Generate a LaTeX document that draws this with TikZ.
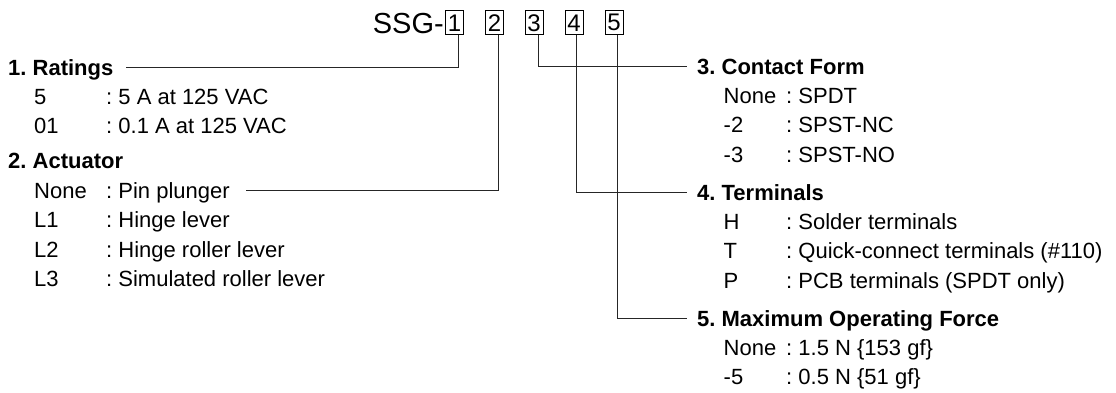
\documentclass[tikz,border=0pt]{standalone}
\usepackage{fontspec}
\setmainfont{Liberation Sans}
\frenchspacing
\begin{document}
\begin{tikzpicture}[x=1pt,y=-1pt,
  txt/.style={anchor=base west,inner sep=0pt,text height=15.75pt,text depth=0pt,font=\fontsize{22}{26}\selectfont\frenchspacing},
  hd/.style={txt,font=\fontsize{22}{26}\selectfont\bfseries\frenchspacing},
  digitbox/.style={draw,line width=0.9pt,inner sep=0pt,minimum width=18pt,minimum height=24pt,font=\fontsize{24}{29}\selectfont},
  lead/.style={line width=0.9pt,black!85}]
\useasboundingbox (0,0) rectangle (1116,392);
% title
\node[anchor=base east,inner sep=0pt,font=\fontsize{29}{34}\selectfont] (ssg) at (444,33.2) {SSG-};
\node[digitbox] (b1) at (454.5,22.8) {1};
\node[digitbox] (b2) at (494.5,22.8) {2};
\node[digitbox] (b3) at (534,22.8) {3};
\node[digitbox] (b4) at (574,22.8) {4};
\node[digitbox] (b5) at (614,22.8) {5};
% left column
\node[hd] (h1) at (8,75.4) {1. Ratings};
\node[txt] (k11) at (34,104.4) {5};
\node[txt] (v11) at (106,104.4) {: 5 A at 125 VAC};
\node[txt] (k12) at (34,133.9) {01};
\node[txt] (v12) at (106,133.9) {: 0.1 A at 125 VAC};
\node[hd] (h2) at (8,168.9) {2. Actuator};
\node[txt] (k21) at (34,198.4) {None};
\node[txt] (v21) at (106,198.4) {: Pin plunger};
\node[txt] (k22) at (34,227.9) {L1};
\node[txt] (v22) at (106,227.9) {: Hinge lever};
\node[txt] (k23) at (34,257.4) {L2};
\node[txt] (v23) at (106,257.4) {: Hinge roller lever};
\node[txt] (k24) at (34,286.9) {L3};
\node[txt] (v24) at (106,286.9) {: Simulated roller lever};
% right column
\node[hd] (h3) at (697,74.4) {3. Contact Form};
\node[txt] (k31) at (723.5,103.4) {None};
\node[txt] (v31) at (786,103.4) {: SPDT};
\node[txt] (k32) at (723.5,132.9) {-2};
\node[txt] (v32) at (786,132.9) {: SPST-NC};
\node[txt] (k33) at (723.5,162.4) {-3};
\node[txt] (v33) at (786,162.4) {: SPST-NO};
\node[hd] (h4) at (697,200.4) {4. Terminals};
\node[txt] (k41) at (723.5,229.4) {H};
\node[txt] (v41) at (786,229.4) {: Solder terminals};
\node[txt] (k42) at (723.5,258.9) {T};
\node[txt] (v42) at (786,258.9) {: Quick-connect terminals (\#110)};
\node[txt] (k43) at (723.5,288.4) {P};
\node[txt] (v43) at (786,288.4) {: PCB terminals (SPDT only)};
\node[hd] (h5) at (697,326.4) {5. Maximum Operating Force};
\node[txt] (k51) at (723.5,355.4) {None};
\node[txt] (v51) at (786,355.4) {: 1.5 N \{153 gf\}};
\node[txt] (k52) at (723.5,384.9) {-5};
\node[txt] (v52) at (786,384.9) {: 0.5 N \{51 gf\}};
% leaders
\draw[lead,shorten >=12pt] ([xshift=3.5pt]b1.south) |- (h1.east);
\draw[lead,shorten >=16pt] ([xshift=3.5pt]b2.south) |- (v21.east);
\draw[lead,shorten >=10pt] ([xshift=4pt]b3.south) |- (h3.west);
\draw[lead,shorten >=10pt] ([xshift=2.5pt]b4.south) |- (h4.west);
\draw[lead,shorten >=10pt] ([xshift=3pt]b5.south) |- (h5.west);
\end{tikzpicture}
\end{document}
